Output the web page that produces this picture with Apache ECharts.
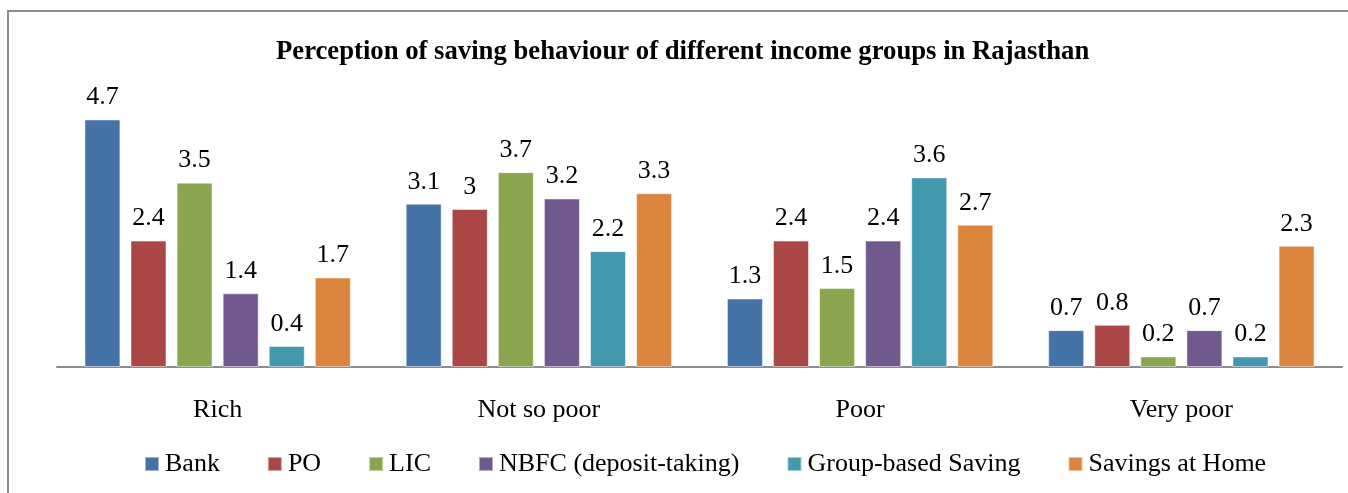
<!DOCTYPE html>
<html><head><meta charset="utf-8">
<script src="https://cdn.jsdelivr.net/npm/echarts@6/dist/echarts.min.js"></script>
<style>html,body{margin:0;padding:0;background:#fff}#c{width:1348px;height:493px}</style>
</head><body><div id="c"></div>
<script>
const categories = ['Rich', 'Not so poor', 'Poor', 'Very poor'];
const seriesNames = ['Bank', 'PO', 'LIC', 'NBFC (deposit-taking)', 'Group-based Saving', 'Savings at Home'];
const bank = [4.7, 3.1, 1.3, 0.7];
const po = [2.4, 3.0, 2.4, 0.8];
const lic = [3.5, 3.7, 1.5, 0.2];
const nbfc = [1.4, 3.2, 2.4, 0.7];
const groupSaving = [0.4, 2.2, 3.6, 0.2];
const home = [1.7, 3.3, 2.7, 2.3];
const colors = ['#4572A7', '#AA4643', '#89A54E', '#71588F', '#4198AF', '#DB843D'];
const values = [bank, po, lic, nbfc, groupSaving, home];
const font = '"Liberation Serif", "Times New Roman", serif';
const chart = echarts.init(document.getElementById('c'));
chart.setOption({
  animation: false,
  textStyle: {fontFamily: font},
  title: {
    text: 'Perception of saving behaviour of different income groups in Rajasthan',
    left: 271, top: 34,
    textStyle: {fontFamily: font, fontSize: 26.7, fontWeight: 'bold', color: '#000'}
  },
  graphic: [{
    type: 'rect', silent: true, z: -1,
    shape: {x: 8, y: 11, width: 1345, height: 500},
    style: {fill: 'none', stroke: '#8c8c8c', lineWidth: 2}
  }],
  legend: {
    left: 139, top: 446,
    itemWidth: 14, itemHeight: 14, itemGap: 47,
    icon: 'rect',
    textStyle: {fontFamily: font, fontSize: 26, color: '#000', padding: [0, 0, 0, 1]},
    data: seriesNames
  },
  grid: {left: 57, width: 1285, top: 51, height: 316, containLabel: false},
  xAxis: {
    type: 'category', data: categories,
    axisLine: {lineStyle: {color: '#8c8c8c', width: 2}},
    axisTick: {show: false},
    axisLabel: {fontFamily: font, fontSize: 26, color: '#000', margin: 30}
  },
  yAxis: {type: 'value', min: 0, max: 6, show: false, splitLine: {show: false}},
  series: seriesNames.map((n, i) => ({
    name: n, type: 'bar', data: values[i],
    barWidth: 36, barGap: '28%',
    itemStyle: {color: colors[i], borderColor: 'rgba(255,255,255,0.5)', borderWidth: 1},
    label: {show: true, position: 'top', distance: 9, fontFamily: font, fontSize: 26, color: '#000'}
  }))
});
</script></body></html>
